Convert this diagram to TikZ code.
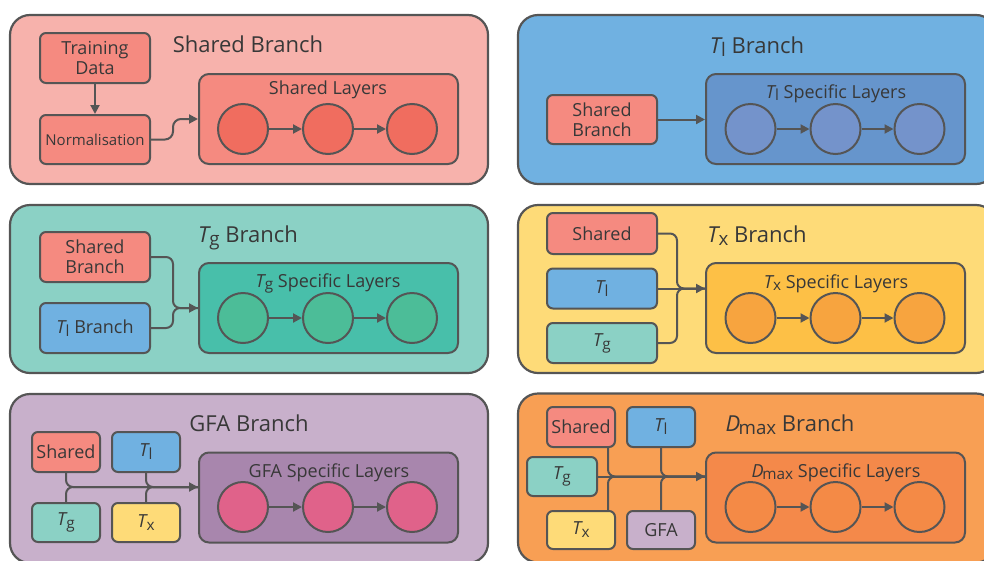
\documentclass[tikz,border=0pt]{standalone}
\usepackage{fontspec}
\usepackage{graphicx}
\setmainfont{Open Sans}
\usetikzlibrary{arrows.meta,calc}
\definecolor{edge}{HTML}{555555}
\definecolor{txt}{HTML}{383838}
\definecolor{pAbg}{HTML}{F7B2AC}
\definecolor{pAbox}{HTML}{F58A80}
\definecolor{pAcir}{HTML}{F06D5F}
\definecolor{pBbg}{HTML}{70B1E1}
\definecolor{pBbox}{HTML}{6695CC}
\definecolor{pBcir}{HTML}{7493CB}
\definecolor{pCbg}{HTML}{8BD1C5}
\definecolor{pCbox}{HTML}{48BFAA}
\definecolor{pCcir}{HTML}{4CBD98}
\definecolor{pDbg}{HTML}{FEDB78}
\definecolor{pDbox}{HTML}{FDC046}
\definecolor{pDcir}{HTML}{F7A43F}
\definecolor{pEbg}{HTML}{C8B0CB}
\definecolor{pEbox}{HTML}{A886AD}
\definecolor{pEcir}{HTML}{E0628A}
\definecolor{pFbg}{HTML}{F89F54}
\definecolor{pFbox}{HTML}{F4894A}
\definecolor{pFcir}{HTML}{F48A46}
\newcommand\Tsub[2]{\textit{#1}\kern-0.07em\raisebox{-0.3ex}{\scalebox{0.85}{#2}}}
\begin{document}
\begin{tikzpicture}[x=1pt,y=-1pt,
  panel/.style={draw=edge, line width=2.2pt, rounded corners=20pt, inner sep=0pt},
  layers/.style={draw=edge, line width=2pt, rounded corners=10pt, minimum width=259pt, minimum height=90pt, inner sep=0pt},
  box/.style={draw=edge, line width=2pt, rounded corners=6pt, text=txt, font=\fontsize{18}{20}\selectfont, align=center, inner sep=0pt},
  unit/.style={circle, draw=edge, line width=2pt, minimum size=50pt, inner sep=0pt},
  conn/.style={draw=edge, line width=2pt, rounded corners=7pt},
  arr/.style={conn, -{Triangle[length=9pt,width=9pt]}},
  title/.style={font=\fontsize{22}{26}\selectfont, text=txt, anchor=base, inner sep=0pt},
  ltitle/.style={font=\fontsize{18}{20}\selectfont, text=txt, anchor=base, inner sep=0pt}]
\useasboundingbox (0,0) rectangle (984,560);
\clip (0,0) rectangle (984,560);
% panels
\node[panel, fill=pAbg, minimum width=478pt, minimum height=169pt] (PA) at (249,99.5) {};
\node[panel, fill=pBbg, minimum width=478pt, minimum height=169pt] (PB) at (757,99.5) {};
\node[panel, fill=pCbg, minimum width=478pt, minimum height=168pt] (PC) at (249,289) {};
\node[panel, fill=pDbg, minimum width=478pt, minimum height=168pt] (PD) at (757,289) {};
\node[panel, fill=pEbg, minimum width=478pt, minimum height=169pt] (PE) at (249,478.5) {};
\node[panel, fill=pFbg, minimum width=478pt, minimum height=169pt] (PF) at (757,478) {};
% titles
\node[title] (tA) at (248,52) {Shared Branch};
\node[title] (tB) at (757,53) {\Tsub{T}{l} Branch};
\node[title] (tC) at (248,242) {\Tsub{T}{g} Branch};
\node[title] (tD) at (757,242) {\Tsub{T}{x} Branch};
\node[title] (tE) at (249,431) {GFA Branch};
\node[title] (tF) at (790,431) {\Tsub{D}{max} Branch};
% layer boxes
\node[layers, fill=pAbox] (LA) at (328.5,119) {};
\node[layers, fill=pBbox] (LB) at (835.5,119) {};
\node[layers, fill=pCbox] (LC) at (328.5,308) {};
\node[layers, fill=pDbox] (LD) at (835.5,308) {};
\node[layers, fill=pEbox] (LE) at (328.5,497.5) {};
\node[layers, fill=pFbox] (LF) at (835.5,497.5) {};
\node[ltitle] (lA) at (328,94) {Shared Layers};
\node[ltitle] (lB) at (836,98) {\Tsub{T}{l} Specific Layers};
\node[ltitle] (lC) at (328,287) {\Tsub{T}{g} Specific Layers};
\node[ltitle] (lD) at (836,288) {\Tsub{T}{x} Specific Layers};
\node[ltitle] (lE) at (329,477) {GFA Specific Layers};
\node[ltitle] (lF) at (836,477) {\Tsub{D}{max} Specific Layers};
% circles
\foreach \p/\cx/\cy/\col in {A/328/129/pAcir, B/835.5/129/pBcir, C/328/318/pCcir, D/835.5/318/pDcir, E/328/507/pEcir, F/835.5/507/pFcir}{
  \node[unit, fill=\col] (c\p1) at (\cx-85,\cy) {};
  \node[unit, fill=\col] (c\p2) at (\cx,\cy) {};
  \node[unit, fill=\col] (c\p3) at (\cx+84,\cy) {};
  \draw[arr] (c\p1) -- (c\p2);
  \draw[arr] (c\p2) -- (c\p3);
}
% panel A
\node[box, fill=pAbox, minimum width=110pt, minimum height=50pt] (trd) at (95,58) {Training\\Data};
\node[box, fill=pAbox, minimum width=110pt, minimum height=49pt, font=\fontsize{15}{18}\selectfont] (nrm) at (95,139.5) {Normalisation};
\draw[arr] (trd.south) -- (nrm.north);
\draw[arr, rounded corners=8pt] (nrm.east) -- (173,139.5) -- (173,119) -- (LA.west);
% panel B
\node[box, fill=pAbox, minimum width=110pt, minimum height=49pt] (sB) at (602,119.5) {Shared\\Branch};
\draw[arr] (sB.east) -- (LB.west |- sB.east);
% panel C
\node[box, fill=pAbox, minimum width=110pt, minimum height=50pt] (sC) at (95,257) {Shared\\Branch};
\node[box, fill=pBbg, minimum width=110pt, minimum height=50pt] (lC2) at (95,328) {\Tsub{T}{l} Branch};
\draw[conn] (sC.east) -- (173,257) -- (173,308) -- (LC.west);
\draw[arr] (lC2.east) -- (173,328) -- (173,308) -- (LC.west);
% panel D
\node[box, fill=pAbox, minimum width=110pt, minimum height=41pt] (sD) at (602,233.5) {Shared};
\node[box, fill=pBbg, minimum width=110pt, minimum height=40pt] (lD2) at (602,288.5) {\Tsub{T}{l}};
\node[box, fill=pCbg, minimum width=110pt, minimum height=40pt] (gD) at (602,343) {\Tsub{T}{g}};
\coordinate (eD) at (LD.west |- lD2.east);
\draw[conn] (sD.east) -- (677,233.5) -- (677,288.5) -- (eD);
\draw[conn] (gD.east) -- (677,343) -- (677,288.5) -- (eD);
\draw[arr] (lD2.east) -- (eD);
% panel E
\node[box, fill=pAbox, minimum width=68pt, minimum height=40pt] (sE) at (66,452) {Shared};
\node[box, fill=pBbg, minimum width=68pt, minimum height=40pt] (lE2) at (146,452) {\Tsub{T}{l}};
\node[box, fill=pCbg, minimum width=68pt, minimum height=39pt] (gE) at (66,522.5) {\Tsub{T}{g}};
\node[box, fill=pDbg, minimum width=68pt, minimum height=39pt] (xE) at (146,522.5) {\Tsub{T}{x}};
\coordinate (eE) at ([yshift=10.5pt]LE.west);
\draw[conn] (sE.south) -- (sE.south |- eE) -- (eE);
\draw[conn] (gE.north) -- (gE.north |- eE) -- (eE);
\draw[conn] (lE2.south) -- (lE2.south |- eE) -- (eE);
\draw[conn] (xE.north) -- (xE.north |- eE) -- (eE);
\draw[arr] (lE2.south |- eE) -- (eE);
% panel F
\node[box, fill=pAbox, minimum width=68pt, minimum height=40pt] (sF) at (581,427) {Shared};
\node[box, fill=pBbg, minimum width=68pt, minimum height=40pt] (lF2) at (661,427) {\Tsub{T}{l}};
\node[box, fill=pCbg, minimum width=70pt, minimum height=39pt] (gF) at (562,476.5) {\Tsub{T}{g}};
\node[box, fill=pDbg, minimum width=68pt, minimum height=38pt] (xF) at (581,530) {\Tsub{T}{x}};
\node[box, fill=pEbg, minimum width=68pt, minimum height=38pt] (aF) at (661,530) {GFA};
\coordinate (eF) at (LF.west |- gF.east);
\coordinate (vS) at ([xshift=-8pt]sF.south east);
\coordinate (vX) at ([xshift=-8pt]xF.north east);
\draw[conn] (vS) -- (vS |- eF) -- (eF);
\draw[conn] (vX) -- (vX |- eF) -- (eF);
\draw[conn] (lF2.south) -- (lF2.south |- eF) -- (eF);
\draw[conn] (aF.north) -- (aF.north |- eF) -- (eF);
\draw[arr] (gF.east) -- (eF);
\end{tikzpicture}
\end{document}
